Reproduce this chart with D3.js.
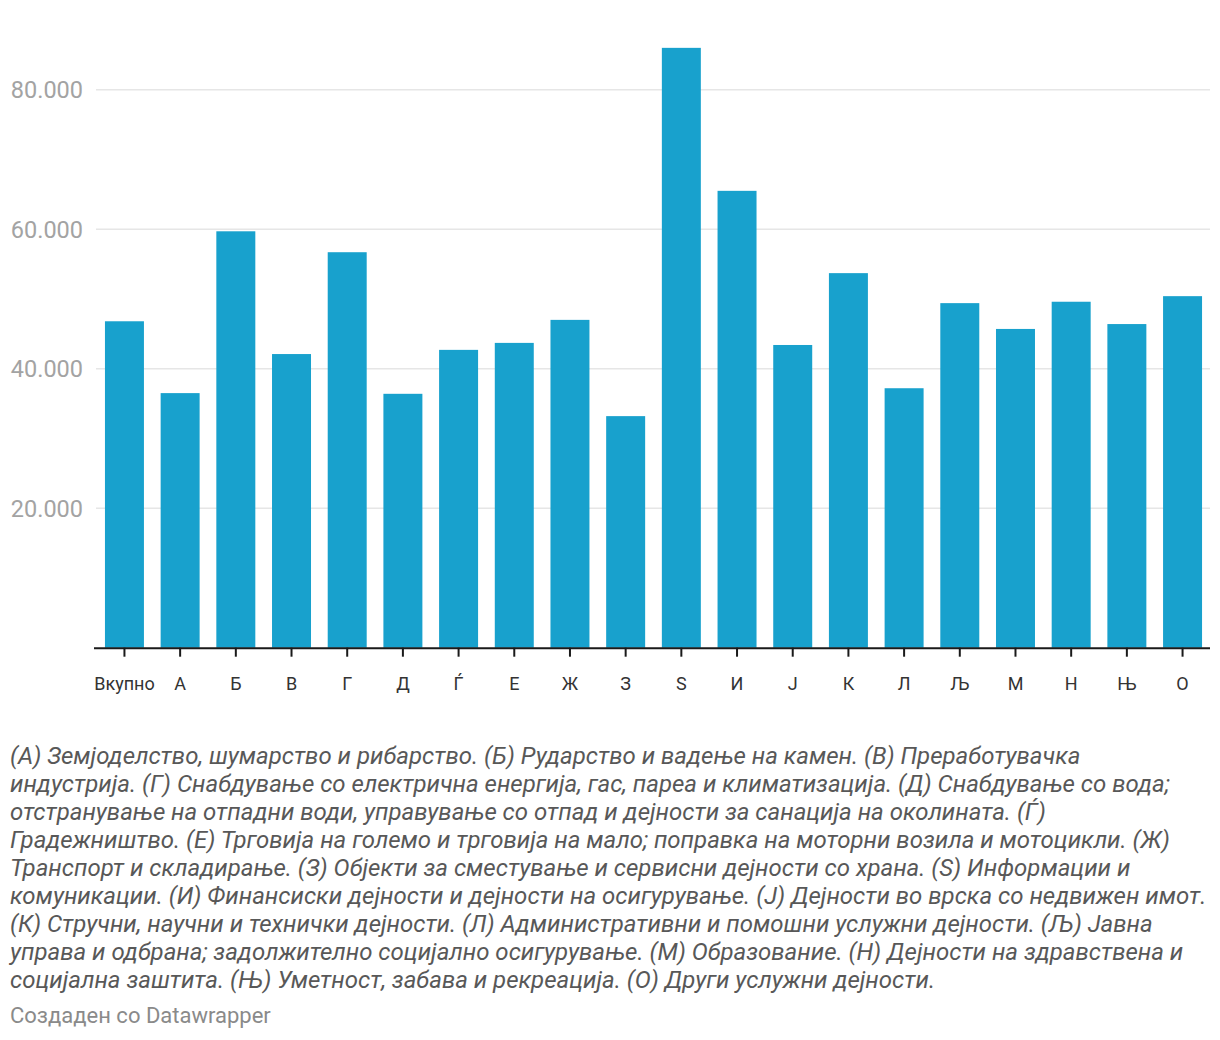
<!DOCTYPE html>
<html>
<head>
<meta charset="utf-8">
<script src="https://cdn.jsdelivr.net/npm/d3@7"></script>
<style>
  body { margin: 0; background: #fff; font-family: Roboto, sans-serif; }
  .notes { font-style: italic; }
</style>
</head>
<body>
<div id="chart"></div>
<script>
// categories and values
let categories = ['Вкупно', 'А', 'Б', 'В', 'Г', 'Д', 'Ѓ', 'Е', 'Ж', 'З',
  'S', 'И', 'Ј', 'К', 'Л', 'Љ', 'М', 'Н', 'Њ', 'О'];
let values = [46800, 36500, 59700, 42100, 56700, 36400, 42700, 43700, 47000, 33200,
  86000, 65500, 43400, 53700, 37200, 49400, 45700, 49600, 46400, 50400];
let yTicks = [20000, 40000, 60000, 80000];

let notes = [
  '(А) Земјоделство, шумарство и рибарство. (Б) Рударство и вадење на камен. (В) Преработувачка',
  'индустрија. (Г) Снабдување со електрична енергија, гас, пареа и климатизација. (Д) Снабдување со вода;',
  'отстранување на отпадни води, управување со отпад и дејности за санација на околината. (Ѓ)',
  'Градежништво. (Е) Трговија на големо и трговија на мало; поправка на моторни возила и мотоцикли. (Ж)',
  'Транспорт и складирање. (З) Објекти за сместување и сервисни дејности со храна. (S) Информации и',
  'комуникации. (И) Финансиски дејности и дејности на осигурување. (Ј) Дејности во врска со недвижен имот.',
  '(К) Стручни, научни и технички дејности. (Л) Административни и помошни услужни дејности. (Љ) Јавна',
  'управа и одбрана; задолжително социјално осигурување. (М) Образование. (Н) Дејности на здравствена и',
  'социјална заштита. (Њ) Уметност, забава и рекреација. (О) Други услужни дејности.'
];
let credit = 'Создаден со Datawrapper';

let svgWidth = 1220;
let svgHeight = 1040;

let svg = d3.select('#chart').append('svg')
  .attr('width', svgWidth)
  .attr('height', svgHeight);

let x = d3.scaleBand()
  .domain(categories)
  .range([96.6, 1210.4])
  .paddingInner(0.3)
  .paddingOuter(0.15);

let y = d3.scaleLinear()
  .domain([0, 80000])
  .range([647.7, 89.7]);

// gridlines
svg.append('g')
  .selectAll('line')
  .data(yTicks)
  .enter()
  .append('line')
  .attr('x1', 96)
  .attr('x2', 1210)
  .attr('y1', d => y(d))
  .attr('y2', d => y(d))
  .attr('stroke', '#e6e6e6')
  .attr('stroke-width', 1.5);

// y tick labels
svg.append('g')
  .selectAll('text')
  .data(yTicks)
  .enter()
  .append('text')
  .attr('x', 83)
  .attr('y', d => y(d))
  .attr('dy', '0.36em')
  .attr('text-anchor', 'end')
  .attr('font-size', '23.5px')
  .attr('fill', '#a3a3a3')
  .text(d => d3.format(',')(d).replace(/,/g, '.'));

// bars
svg.append('g')
  .selectAll('rect')
  .data(values)
  .enter()
  .append('rect')
  .attr('x', (d, i) => x(categories[i]))
  .attr('y', d => y(d))
  .attr('width', x.bandwidth())
  .attr('height', d => y(0) - y(d))
  .attr('fill', '#18a1cd');

// x axis
let xAxis = svg.append('g')
  .attr('transform', `translate(0, ${y(0)})`)
  .call(d3.axisBottom(x).tickSize(9).tickPadding(20.5).tickSizeOuter(0));

xAxis.select('.domain')
  .attr('d', `M94,0.5H1210`)
  .attr('stroke', '#1a1a1a')
  .attr('stroke-width', 2);

xAxis.selectAll('.tick line')
  .attr('stroke', '#1a1a1a')
  .attr('stroke-width', 2);

xAxis.selectAll('.tick text')
  .attr('font-family', 'Roboto, sans-serif')
  .attr('font-size', '18px')
  .attr('fill', '#333');

// notes
svg.append('g')
  .classed('notes', true)
  .selectAll('text')
  .data(notes)
  .enter()
  .append('text')
  .attr('x', 10)
  .attr('y', (d, i) => 764 + i * 28)
  .attr('font-size', '24px')
  .attr('fill', '#585858')
  .text(d => d);

svg.append('text')
  .attr('x', 10)
  .attr('y', 1023)
  .attr('font-size', '22px')
  .attr('fill', '#8a8a8a')
  .text(credit);
</script>
</body>
</html>
